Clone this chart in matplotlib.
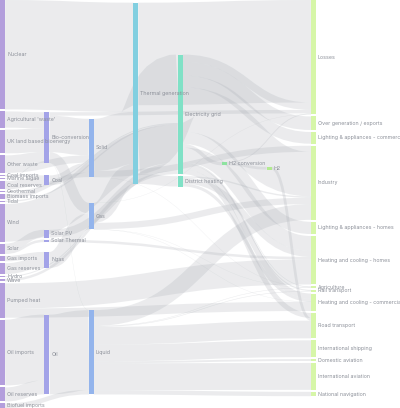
import matplotlib
matplotlib.use("Agg")
import matplotlib.pyplot as plt
from matplotlib.path import Path
from matplotlib.patches import PathPatch, Rectangle

# ---------------- data ----------------
sources = [
    "Agricultural 'waste'", "Bio-conversion", "Bio-conversion", "Bio-conversion", "Bio-conversion",
    "Biofuel imports", "Biomass imports", "Coal imports", "Coal reserves", "Coal",
    "District heating", "District heating", "District heating",
    "Electricity grid", "Electricity grid", "Electricity grid", "Electricity grid", "Electricity grid",
    "Electricity grid", "Electricity grid", "Electricity grid", "Electricity grid", "Electricity grid",
    "Electricity grid",
    "Gas imports", "Gas reserves", "Gas", "Gas", "Gas", "Gas", "Gas",
    "Geothermal", "H2 conversion", "H2 conversion", "H2", "Hydro",
    "Liquid", "Liquid", "Liquid", "Liquid", "Liquid", "Liquid", "Liquid", "Liquid",
    "Marine algae", "Ngas", "Nuclear", "Oil imports", "Oil reserves", "Oil",
    "Other waste", "Other waste", "Pumped heat", "Pumped heat",
    "Solar PV", "Solar Thermal", "Solar", "Solar",
    "Solid", "Solid", "Solid",
    "Thermal generation", "Thermal generation", "Thermal generation",
    "Tidal", "UK land based bioenergy", "Wave", "Wind",
]
targets = [
    "Bio-conversion", "Liquid", "Losses", "Solid", "Gas",
    "Liquid", "Solid", "Coal", "Coal", "Solid",
    "Industry", "Heating and cooling - commercial", "Heating and cooling - homes",
    "Over generation / exports", "Heating and cooling - homes", "H2 conversion", "Industry", "Road transport",
    "Agriculture", "Heating and cooling - commercial", "Losses", "Rail transport",
    "Lighting & appliances - commercial", "Lighting & appliances - homes",
    "Ngas", "Ngas", "Heating and cooling - commercial", "Losses", "Thermal generation", "Agriculture", "Industry",
    "Electricity grid", "H2", "Losses", "Road transport", "Electricity grid",
    "Industry", "International shipping", "Road transport", "Domestic aviation", "International aviation",
    "Agriculture", "National navigation", "Rail transport",
    "Bio-conversion", "Gas", "Thermal generation", "Oil", "Oil", "Liquid",
    "Solid", "Bio-conversion", "Heating and cooling - homes", "Heating and cooling - commercial",
    "Electricity grid", "Heating and cooling - homes", "Solar Thermal", "Solar PV",
    "Agriculture", "Thermal generation", "Industry",
    "Electricity grid", "Losses", "District heating",
    "Electricity grid", "Bio-conversion", "Electricity grid", "Electricity grid",
]
values = [
    124.729, 0.597, 26.862, 280.322, 81.144,
    35, 35, 11.606, 63.965, 75.571,
    10.639, 22.505, 46.184,
    104.453, 113.726, 27.14, 342.165, 37.797,
    4.412, 40.858, 56.691, 7.863,
    90.008, 93.494,
    40.719, 82.233, 0.129, 1.401, 151.891, 2.096, 48.58,
    7.013, 20.897, 6.242, 20.897, 6.995,
    121.066, 128.69, 135.835, 14.458, 206.267,
    3.64, 33.218, 4.413,
    4.375, 122.952, 839.978, 504.287, 107.703, 611.99,
    56.587, 77.81, 193.026, 70.672,
    59.901, 19.263, 19.263, 59.901,
    0.882, 400.12, 46.477,
    525.531, 787.129, 79.329,
    9.452, 182.01, 19.013, 289.366,
]

layer_colors = ["#b39edc", "#a3a3e8", "#93b4ec", "#82cfe0", "#80e1c6", "#8ee3a0", "#b2ea90", "#d6f6a8"]

# ---------------- layout (d3-sankey algorithm) ----------------
W, H = 400, 408
X0, X1, Y0, Y1 = 0.0, 316.0, 0.0, 408.0
NODE_W = 5.0
PAD = 2.0
ITER = 6

names = []
for s, t in zip(sources, targets):
    for n in (s, t):
        if n not in names:
            names.append(n)
nodes = [{"name": n, "index": i, "sourceLinks": [], "targetLinks": []} for i, n in enumerate(names)]
by_name = {n["name"]: n for n in nodes}
links = []
for i, (s, t, v) in enumerate(zip(sources, targets, values)):
    l = {"index": i, "source": by_name[s], "target": by_name[t], "value": v}
    links.append(l)
    by_name[s]["sourceLinks"].append(l)
    by_name[t]["targetLinks"].append(l)

for n in nodes:
    n["value"] = max(sum(l["value"] for l in n["sourceLinks"]),
                     sum(l["value"] for l in n["targetLinks"]))

current = list(nodes)
x = 0
while current:
    nxt = []
    seen = set()
    for n in current:
        n["depth"] = x
        for l in n["sourceLinks"]:
            if l["target"]["index"] not in seen:
                seen.add(l["target"]["index"])
                nxt.append(l["target"])
    x += 1
    current = nxt

ncols = max(n["depth"] for n in nodes) + 1
kx = (X1 - X0 - NODE_W) / (ncols - 1)
columns = [[] for _ in range(ncols)]
for n in nodes:
    layer = n["depth"] if n["sourceLinks"] else ncols - 1
    n["layer"] = layer
    n["x0"] = X0 + layer * kx
    n["x1"] = n["x0"] + NODE_W
    columns[layer].append(n)

py = min(PAD, (Y1 - Y0) / (max(len(c) for c in columns) - 1))


def by(key_node):
    return lambda k: (k[key_node].get("y0", 0.0), k["index"])


def reorder_links(col):
    for n in col:
        n["sourceLinks"].sort(key=by("target"))
        n["targetLinks"].sort(key=by("source"))


def reorder_node_links(node):
    for l in node["targetLinks"]:
        l["source"]["sourceLinks"].sort(key=by("target"))
    for l in node["sourceLinks"]:
        l["target"]["targetLinks"].sort(key=by("source"))


ky = min((Y1 - Y0 - (len(c) - 1) * py) / sum(n["value"] for n in c) for c in columns)
for col in columns:
    y = Y0
    for n in col:
        n["y0"] = y
        n["y1"] = y + n["value"] * ky
        y = n["y1"] + py
        for l in n["sourceLinks"]:
            l["width"] = l["value"] * ky
    y = (Y1 - y + py) / (len(col) + 1)
    for i, n in enumerate(col):
        n["y0"] += y * (i + 1)
        n["y1"] += y * (i + 1)
    reorder_links(col)


def target_top(source, target):
    y = source["y0"] - (len(source["sourceLinks"]) - 1) * py / 2
    for l in source["sourceLinks"]:
        if l["target"] is target:
            break
        y += l["width"] + py
    for l in target["targetLinks"]:
        if l["source"] is source:
            break
        y -= l["width"]
    return y


def source_top(source, target):
    y = target["y0"] - (len(target["targetLinks"]) - 1) * py / 2
    for l in target["targetLinks"]:
        if l["source"] is source:
            break
        y += l["width"] + py
    for l in source["sourceLinks"]:
        if l["target"] is target:
            break
        y -= l["width"]
    return y


def collide_tb(col, y, i, alpha):
    while i < len(col):
        n = col[i]
        dy = (y - n["y0"]) * alpha
        if dy > 1e-6:
            n["y0"] += dy
            n["y1"] += dy
        y = n["y1"] + py
        i += 1


def collide_bt(col, y, i, alpha):
    while i >= 0:
        n = col[i]
        dy = (n["y1"] - y) * alpha
        if dy > 1e-6:
            n["y0"] -= dy
            n["y1"] -= dy
        y = n["y0"] - py
        i -= 1


def resolve(col, alpha):
    i = len(col) >> 1
    subj = col[i]
    collide_bt(col, subj["y0"] - py, i - 1, alpha)
    collide_tb(col, subj["y1"] + py, i + 1, alpha)
    collide_bt(col, Y1, len(col) - 1, alpha)
    collide_tb(col, Y0, 0, alpha)


def relax_lr(alpha, beta):
    for i in range(1, len(columns)):
        col = columns[i]
        for t in col:
            y = w = 0.0
            for l in t["targetLinks"]:
                v = l["value"] * (t["layer"] - l["source"]["layer"])
                y += target_top(l["source"], t) * v
                w += v
            if not w > 0:
                continue
            dy = (y / w - t["y0"]) * alpha
            t["y0"] += dy
            t["y1"] += dy
            reorder_node_links(t)
        col.sort(key=lambda n: n["y0"])
        resolve(col, beta)


def relax_rl(alpha, beta):
    for i in range(len(columns) - 2, -1, -1):
        col = columns[i]
        for s in col:
            y = w = 0.0
            for l in s["sourceLinks"]:
                v = l["value"] * (l["target"]["layer"] - s["layer"])
                y += source_top(s, l["target"]) * v
                w += v
            if not w > 0:
                continue
            dy = (y / w - s["y0"]) * alpha
            s["y0"] += dy
            s["y1"] += dy
            reorder_node_links(s)
        col.sort(key=lambda n: n["y0"])
        resolve(col, beta)


for i in range(ITER):
    alpha = 0.99 ** i
    beta = max(1 - alpha, (i + 1) / ITER)
    relax_rl(alpha, beta)
    relax_lr(alpha, beta)

for n in nodes:
    ya = yb = n["y0"]
    for l in n["sourceLinks"]:
        l["y0"] = ya + l["width"] / 2
        ya += l["width"]
    for l in n["targetLinks"]:
        l["y1"] = yb + l["width"] / 2
        yb += l["width"]

# ---------------- drawing ----------------
DPI = 100
fig = plt.figure(figsize=(W / DPI, H / DPI), dpi=DPI)
ax = fig.add_axes([0, 0, 1, 1])
ax.set_xlim(0, W)
ax.set_ylim(H, 0)
ax.axis("off")

for l in links:
    xs = l["source"]["x1"]
    xt = l["target"]["x0"]
    xm = (xs + xt) / 2
    p = Path([(xs, l["y0"]), (xm, l["y0"]), (xm, l["y1"]), (xt, l["y1"])],
             [Path.MOVETO, Path.CURVE4, Path.CURVE4, Path.CURVE4])
    ax.add_patch(PathPatch(p, fill=False, edgecolor="#a4a8b0", alpha=0.22,
                           linewidth=max(l["width"], 0.3) * 72 / DPI, capstyle="butt"))

for n in nodes:
    ax.add_patch(Rectangle((n["x0"], n["y0"]), n["x1"] - n["x0"], n["y1"] - n["y0"],
                           facecolor=layer_colors[n["layer"]], edgecolor="none"))

for n in nodes:
    ax.text(n["x1"] + 2, (n["y0"] + n["y1"]) / 2, n["name"], ha="left", va="center",
            fontsize=3.8, color="#8d919a", family=["Inter", "DejaVu Sans"])

fig.savefig("out.png", dpi=DPI)
